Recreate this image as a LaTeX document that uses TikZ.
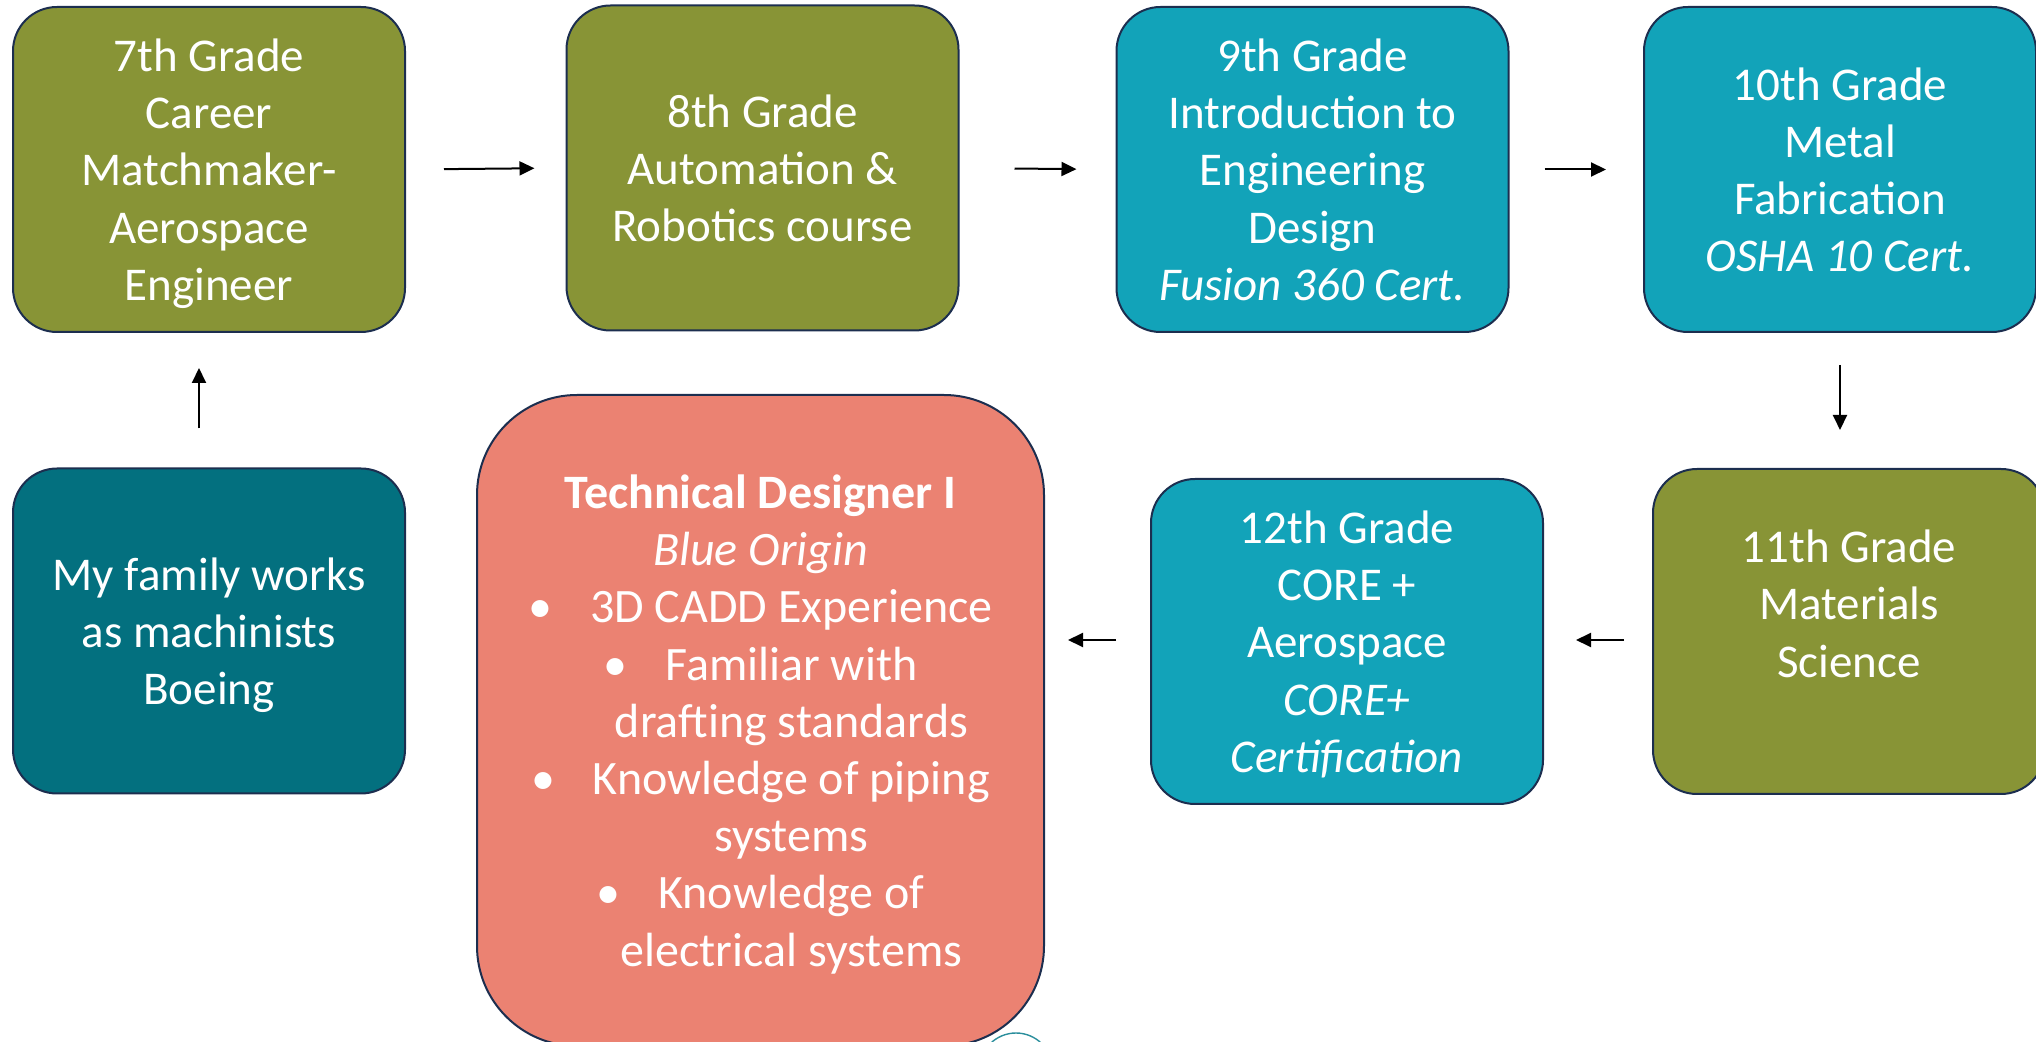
\documentclass[tikz,border=0pt]{standalone}
\usepackage{fontspec}
\setmainfont{Carlito}
\usetikzlibrary{positioning,arrows.meta}
\definecolor{gradeolive}{HTML}{889436}
\definecolor{gradeteal}{HTML}{12A3B9}
\definecolor{familyteal}{HTML}{03707F}
\definecolor{jobsalmon}{HTML}{EB8272}
\definecolor{edgenavy}{HTML}{1C2E4F}
\definecolor{ringteal}{HTML}{2A8E9C}
\tikzset{
  stage/.style={draw=edgenavy, line width=1pt, rounded corners=22pt, text=white,
    align=center, inner sep=0pt, minimum width=196pt, minimum height=162.5pt,
    text depth=0pt, font=\fontsize{23.5}{28.6}\selectfont},
  flow/.style={-{Triangle[length=7.5pt,width=7pt]}, line width=1pt},
}
\newcommand{\jobitem}{\textbullet\hspace{19pt}}
\begin{document}
\begin{tikzpicture}[x=0.5pt, y=-0.5pt]
  \useasboundingbox (0,0) rectangle (2036,1042);
  \clip (0,0) rectangle (2036,1042);
  % top row
  \node[stage, fill=gradeolive] (g7) at (209,169.5)
    {7th Grade\\Career\\Matchmaker-\\Aerospace\\Engineer};
  \node[stage, fill=gradeolive] (g8) at (762.5,168)
    {8th Grade\\Automation \&\\Robotics course};
  \node[stage, fill=gradeteal] (g9) at (1312.5,169.5)
    {9th Grade\\Introduction to\\Engineering\\Design\\\textit{Fusion 360 Cert.}};
  \node[stage, fill=gradeteal] (g10) at (1840,169.5)
    {10th Grade\\Metal\\Fabrication\\\textit{OSHA 10 Cert.}};
  % bottom row
  \node[stage, fill=gradeolive, text depth=28pt] (g11) at (1849,631.5)
    {11th Grade\\Materials\\Science};
  \node[stage, fill=gradeteal] (g12) at (1347,641.5)
    {12th Grade\\CORE +\\Aerospace\\\textit{CORE+}\\\textit{Certification}};
  \node[stage, fill=familyteal] (family) at (209,631)
    {My family works\\as machinists\\Boeing};
  \node[stage, fill=jobsalmon, minimum width=283.5pt, minimum height=325.5pt,
    rounded corners=50pt, font=\fontsize{24}{28.6}\selectfont] (job) at (760.5,720.5)
    {\textbf{Technical Designer I}\\
     \textit{Blue Origin}\\
     \jobitem 3D CADD Experience\\
     \jobitem Familiar with\\
     \hspace*{31pt}drafting standards\\
     \jobitem Knowledge of piping\\
     \hspace*{31pt}systems\\
     \jobitem Knowledge of\\
     \hspace*{31pt}electrical systems};
  \draw[ringteal, line width=0.7pt] (1016,1069.5) circle[radius=18.25pt];
  % arrows
  \draw[flow, shorten <=19pt, shorten >=15.5pt] (g7.east) -- (g8.west);
  \draw[flow, shorten <=27.5pt, shorten >=19.5pt] (g8.east) -- (g9.west);
  \draw[flow, shorten <=17.5pt, shorten >=18.5pt] (g9.east) -- (g10.west);
  \draw[flow, shorten <=16pt, shorten >=19pt] (g10.south) -- (g10.south |- g11.north);
  \draw[flow, shorten <=14pt, shorten >=16pt] (g11.west |- 0,640) -- (g12.east |- 0,640);
  \draw[flow, shorten <=17pt, shorten >=11.5pt] (g12.west |- 0,640) -- (job.east |- 0,640);
  \draw[flow, shorten <=19.5pt, shorten >=17.5pt] ([xshift=-5pt]family.north) -- ([xshift=-5pt]g7.south);
\end{tikzpicture}
\end{document}
